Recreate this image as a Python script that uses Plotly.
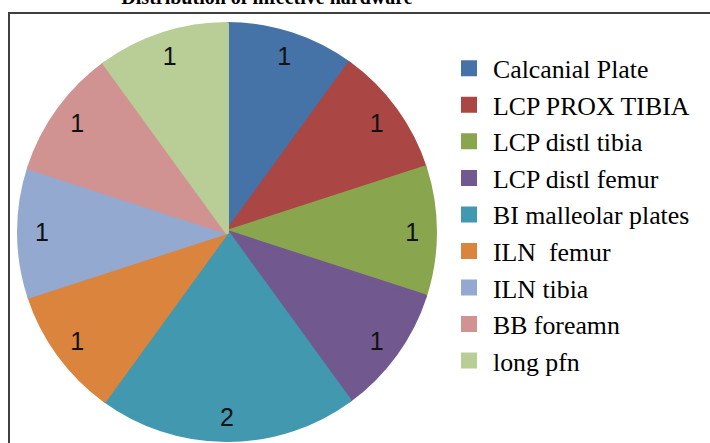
import plotly.graph_objects as go

labels = ["Calcanial Plate", "LCP PROX TIBIA", "LCP distl tibia", "LCP distl femur",
          "BI malleolar plates", "ILN  femur", "ILN tibia", "BB foreamn", "long pfn"]
values = [1, 1, 1, 1, 2, 1, 1, 1, 1]
colors = ["#4572A7", "#AA4643", "#89A54E", "#71588F", "#4198AF",
          "#DB843D", "#93A9CF", "#D19392", "#B9CD96"]

W, H = 710, 443
dom = dict(x=[19 / W, 435 / W], y=[1 - 440 / H, 1 - 24 / H])

# coloured pie (no labels)
fig = go.Figure(go.Pie(
    labels=labels, values=values, sort=False, direction="clockwise", rotation=0,
    marker=dict(colors=colors, line=dict(color=colors, width=4)),
    textinfo="none", domain=dom, showlegend=True, hoverinfo="label+value",
))
# transparent ring on top, used only to place the value labels near the rim
fig.add_trace(go.Pie(
    labels=labels, values=values, sort=False, direction="clockwise", rotation=0,
    hole=0.78,
    marker=dict(colors=["rgba(0,0,0,0)"] * len(values), line=dict(width=0)),
    textinfo="value", textposition="inside", insidetextorientation="horizontal",
    textfont=dict(family="Liberation Sans Narrow, Liberation Sans, sans-serif", size=25, color="#111111"),
    domain=dom, showlegend=False, hoverinfo="skip",
))

fig.update_layout(
    width=W, height=H,
    margin=dict(l=0, r=0, t=0, b=0),
    paper_bgcolor="white", plot_bgcolor="white",
    title=dict(text="<b>Distribution of infective hardware</b>", x=267 / W, xanchor="center",
               y=1 - 4 / H, yanchor="bottom",
               font=dict(family="Liberation Serif, Times New Roman, serif", size=20, color="black")),
    legend=dict(x=445 / W, xanchor="left", y=1 - 45 / H, yanchor="top",
                itemwidth=38,
                font=dict(family="Liberation Serif, Times New Roman, serif", size=25.8, color="black"),
                bgcolor="rgba(0,0,0,0)", traceorder="normal"),
    shapes=[
        dict(type="line", xref="paper", yref="paper", x0=8 / W, x1=1, y0=1 - 13 / H, y1=1 - 13 / H,
             line=dict(color="#404040", width=2)),
        dict(type="line", xref="paper", yref="paper", x0=9 / W, x1=9 / W, y0=0, y1=1 - 13 / H,
             line=dict(color="#404040", width=2)),
    ],
)

fig.write_html("out.html", config={"displayModeBar": False},
               post_script="document.body.style.margin='0';document.body.style.overflow='hidden';")
